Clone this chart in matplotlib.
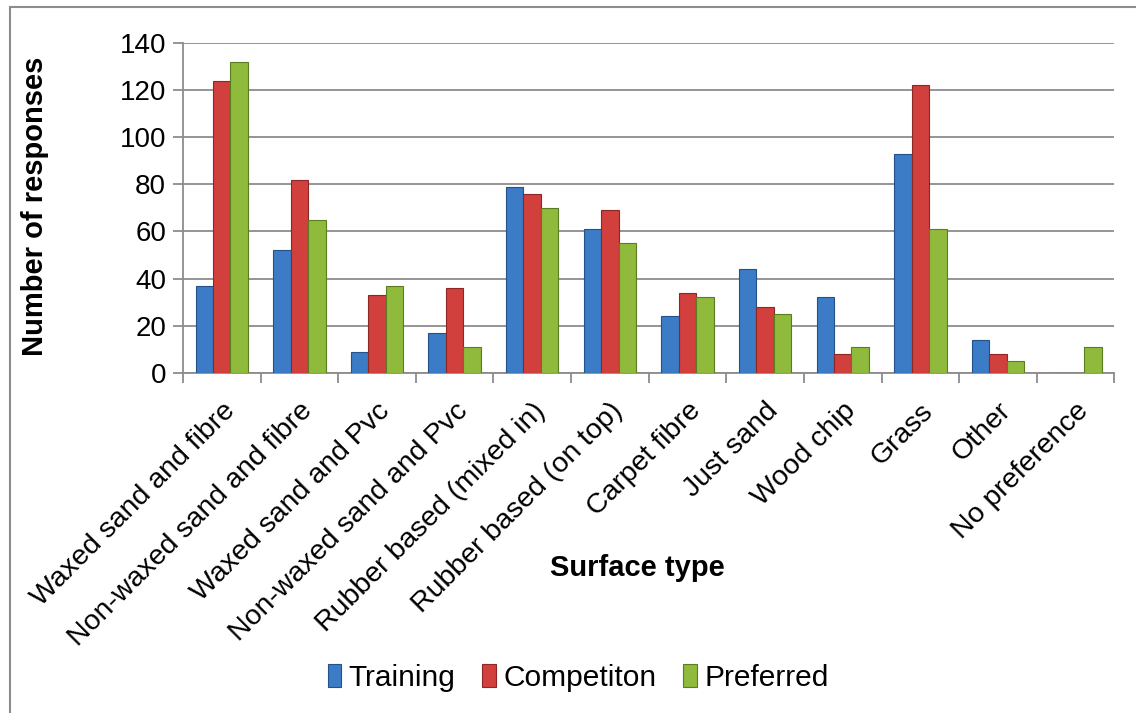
from matplotlib import pyplot as plt
from matplotlib.patches import Rectangle
import numpy as np

plt.rcParams['font.family'] = ['Liberation Sans', 'DejaVu Sans']

# data
surfaces = ['Waxed sand and fibre', 'Non-waxed sand and fibre', 'Waxed sand and Pvc',
            'Non-waxed sand and Pvc', 'Rubber based (mixed in)', 'Rubber based (on top)',
            'Carpet fibre', 'Just sand', 'Wood chip', 'Grass', 'Other', 'No preference']
training = [37, 52, 9, 17, 79, 61, 24, 44, 32, 93, 14, 0]
competition = [124, 82, 33, 36, 76, 69, 34, 28, 8, 122, 8, 0]
preferred = [132, 65, 37, 11, 70, 55, 32, 25, 11, 61, 5, 11]

series = [('Training', training, '#3C7CC6', '#24518A'),
          ('Competiton', competition, '#D1403C', '#8E2624'),
          ('Preferred', preferred, '#8FBA3C', '#5C7C22')]

fig = plt.figure(figsize=(11.36, 7.13), dpi=100)
ax = fig.add_axes([0.161, 0.477, 0.82, 0.463])

x = np.arange(len(surfaces))
w = 0.225
for i, (name, vals, col, edge) in enumerate(series):
    ax.bar(x + (i - 1) * w, vals, width=w, color=col, edgecolor=edge,
           linewidth=0.8, label=name, zorder=3)

ax.set_xlim(-0.5, len(surfaces) - 0.5)
ax.set_ylim(0, 140)
ax.set_yticks(range(0, 141, 20))
ax.grid(axis='y', color='#8c8c8c', linewidth=1.3, zorder=0)

# category labels, tick marks sit between categories
ax.set_xticks(x)
ax.set_xticklabels(surfaces, rotation=45, ha='right', rotation_mode='anchor', fontsize=20.5)
ax.tick_params(axis='x', length=0, pad=18)
ax.set_xticks(np.arange(-0.5, len(surfaces), 1), minor=True)
ax.tick_params(axis='x', which='minor', length=7, color='#8c8c8c', width=1.3)
ax.tick_params(axis='y', labelsize=20, length=7, color='#8c8c8c', width=1.3, pad=5)

for s in ['top', 'right']:
    ax.spines[s].set_visible(False)
for s in ['left', 'bottom']:
    ax.spines[s].set_color('#8c8c8c')
    ax.spines[s].set_linewidth(1.3)

fig.text(0.031, 0.711, 'Number of responses', fontsize=21, fontweight='bold',
         rotation=90, ha='center', va='center')
fig.text(0.561, 0.203, 'Surface type', fontsize=21, fontweight='bold', ha='center', va='center')

fig.legend(loc='center', bbox_to_anchor=(0.509, 0.049), ncol=3, frameon=False,
           fontsize=21.5, handlelength=0.45, handleheight=0.8, handletextpad=0.25,
           columnspacing=0.9)

fig.patches.append(Rectangle((0.009, -0.05), 1.1, 1.04, transform=fig.transFigure,
                             fill=False, edgecolor='#8c8c8c', linewidth=1.5))

plt.savefig('out.png', dpi=100)
